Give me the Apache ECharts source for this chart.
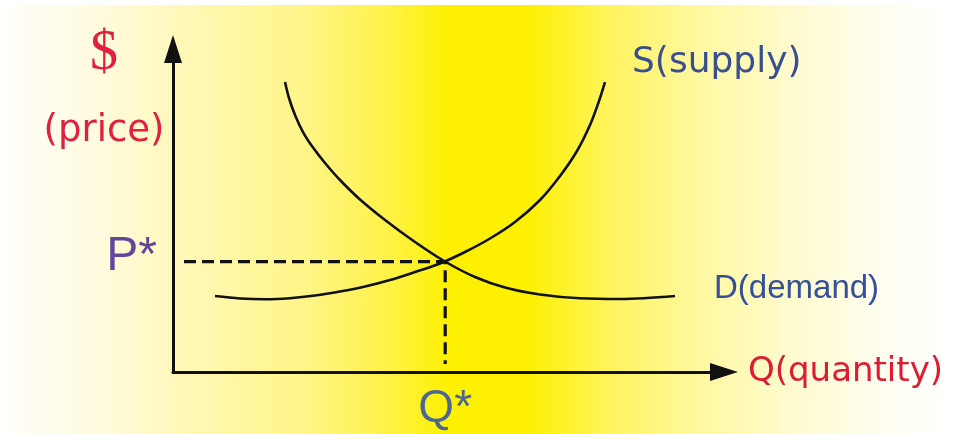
<!DOCTYPE html>
<html>
<head>
<meta charset="utf-8">
<script src="https://cdn.jsdelivr.net/npm/echarts@6/dist/echarts.min.js"></script>
<style>html,body{margin:0;padding:0;background:#fff;}#c{width:956px;height:434px;}</style>
</head>
<body>
<div id="c"></div>
<script>
// Supply curve (quantity, price) in chart units 0-100
var supplyQ = [7.62, 12.16, 16.70, 21.23, 25.77, 30.31, 34.85, 39.38, 43.92, 48.46, 52.99, 57.53, 62.07, 66.61, 70.24, 73.32, 75.68, 77.31, 78.40];
var supplyP = [23.53, 22.76, 22.51, 22.85, 23.68, 24.92, 26.47, 28.48, 30.96, 33.59, 37.15, 41.33, 46.44, 53.25, 60.68, 68.42, 76.47, 83.90, 89.78];
// Demand curve
var demandQ = [20.33, 21.05, 22.14, 23.59, 25.41, 27.59, 30.31, 33.94, 38.48, 43.92, 49.36, 54.81, 60.25, 66.61, 73.87, 81.13, 91.11];
var demandP = [89.78, 84.83, 79.57, 74.30, 69.50, 64.71, 59.44, 53.41, 47.06, 40.25, 34.21, 29.41, 26.16, 23.99, 22.82, 22.60, 23.53];
// Equilibrium and guide lines
var eqQ = 49.4, eqP = 34.2;
var guideQ = [2.0, 49.4, 49.4];
var guideP = [34.2, 34.2, 2.5];
// Texts
var supplyLabel = 'S(supply)';
var demandLabel = 'D(demand)';
var xName = 'Q(quantity)';
var yName1 = '$';
var yName2 = '(price)';
var pStar = 'P*';
var qStar = 'Q*';

function zip(a, b) { return a.map(function (v, i) { return [v, b[i]]; }); }

var chart = echarts.init(document.getElementById('c'), null, { renderer: 'canvas' });
var option = {
  animation: false,
  backgroundColor: '#ffffff',
  grid: { left: 173, top: 49, right: 232, bottom: 62, containLabel: false },
  graphic: [
    {
      type: 'rect', z: -10, silent: true,
      shape: { x: 0, y: 5, width: 956, height: 429 },
      style: {
        fill: new echarts.graphic.LinearGradient(0, 0, 1, 0, [
          { offset: 0, color: '#ffffff' },
          { offset: 0.02, color: '#fffef6' },
          { offset: 0.11, color: '#fffbdc' },
          { offset: 0.19, color: '#fff8b8' },
          { offset: 0.32, color: '#fff588' },
          { offset: 0.41, color: '#fff244' },
          { offset: 0.47, color: '#fdf000' },
          { offset: 0.55, color: '#fdf000' },
          { offset: 0.64, color: '#fff460' },
          { offset: 0.73, color: '#fff8a0' },
          { offset: 0.83, color: '#fffbd0' },
          { offset: 0.93, color: '#fffef2' },
          { offset: 1, color: '#ffffff' }
        ])
      }
    },
    {
      type: 'text', silent: true, x: 104, y: 54,
      style: { text: yName1, font: '56px "Liberation Serif"', fill: '#e0203c', align: 'center', verticalAlign: 'middle' }
    },
    {
      type: 'text', silent: true, x: 104, y: 131,
      style: { text: yName2, font: '37px "DejaVu Sans"', fill: '#e0203c', align: 'center', verticalAlign: 'middle' }
    }
  ],
  xAxis: {
    type: 'value', min: 0, max: 100,
    name: xName, nameLocation: 'end', nameGap: 24,
    nameTextStyle: { color: '#e01a30', fontSize: 34, fontFamily: 'DejaVu Sans', align: 'left', verticalAlign: 'middle' },
    axisLine: { show: true, symbol: ['none', 'triangle'], symbolSize: [18, 28], lineStyle: { color: '#111', width: 3 } },
    axisTick: { show: false }, axisLabel: { show: false }, splitLine: { show: false }
  },
  yAxis: {
    type: 'value', min: 0, max: 100,
    axisLine: { show: true, symbol: ['none', 'triangle'], symbolSize: [18, 28], lineStyle: { color: '#111', width: 3 } },
    axisTick: { show: false }, axisLabel: { show: false }, splitLine: { show: false }
  },
  series: [
    {
      name: 'Supply', type: 'line', data: zip(supplyQ, supplyP), smooth: 0.35, symbol: 'none', silent: true,
      lineStyle: { color: '#111', width: 2.6 },
      endLabel: { show: true, formatter: supplyLabel, color: '#3a4f90', fontSize: 36, fontFamily: 'DejaVu Sans', offset: [19, -19] }
    },
    {
      name: 'Demand', type: 'line', data: zip(demandQ, demandP), smooth: 0.35, symbol: 'none', silent: true,
      lineStyle: { color: '#111', width: 2.6 },
      endLabel: { show: true, formatter: demandLabel, color: '#34509a', fontSize: 33, fontFamily: 'Liberation Sans', offset: [31, -7] }
    },
    {
      name: 'Guide', type: 'line', data: zip(guideQ, guideP), symbol: 'none', silent: true,
      lineStyle: { color: '#111', width: 3.2, type: [12, 6] }
    },
    {
      name: 'Marks', type: 'scatter', symbolSize: 0, silent: true,
      data: [
        { value: [0, eqP], label: { show: true, formatter: pStar, position: 'left', distance: 16, offset: [0, -5], color: '#3a1a8c', fontSize: 48, fontFamily: 'Liberation Sans' } },
        { value: [eqQ, 0], label: { show: true, formatter: qStar, position: 'bottom', distance: 14, offset: [0, 0], color: '#1f45b5', fontSize: 46, fontFamily: 'Liberation Sans' } }
      ]
    }
  ]
};
chart.setOption(option);
</script>
</body>
</html>
